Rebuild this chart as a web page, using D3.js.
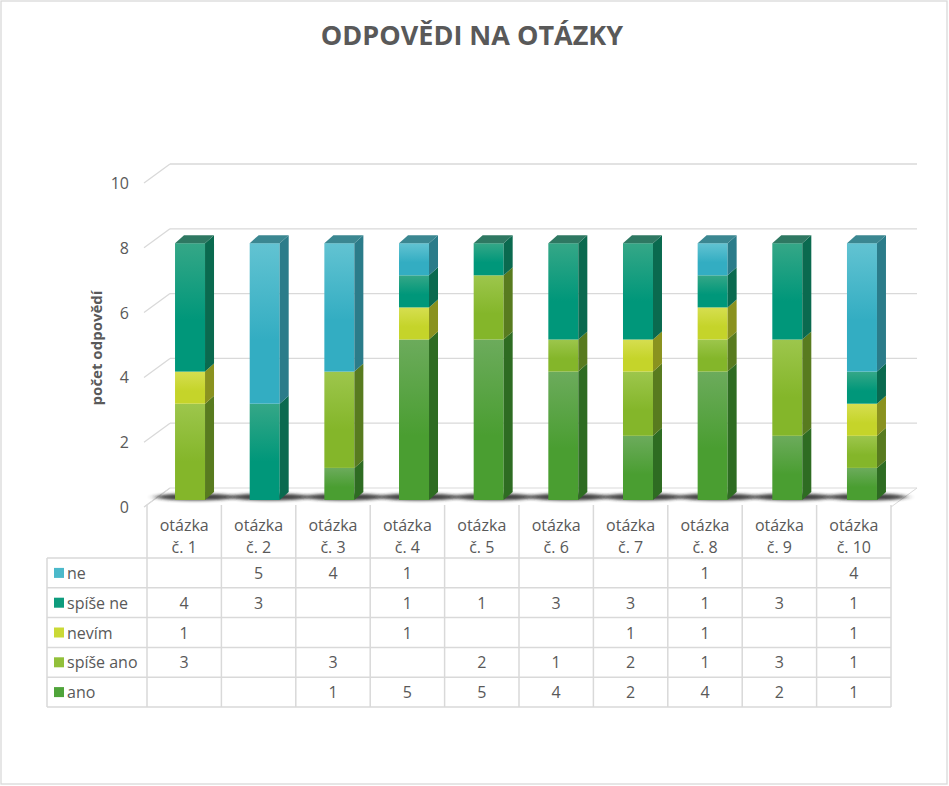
<!DOCTYPE html>
<html>
<head>
<meta charset="utf-8">
<script src="https://cdn.jsdelivr.net/npm/d3@7"></script>
<style>
  body { margin: 0; background: #fff; }
  svg { display: block; font-family: "Open Sans", sans-serif; }
</style>
</head>
<body>
<svg id="chart"></svg>
<script>
// data
const categories = ["otázka č. 1", "otázka č. 2", "otázka č. 3", "otázka č. 4", "otázka č. 5",
  "otázka č. 6", "otázka č. 7", "otázka č. 8", "otázka č. 9", "otázka č. 10"];
const seriesNames = ["ano", "spíše ano", "nevím", "spíše ne", "ne"]; // bottom -> top
const ano      = [null, null, 1, 5, 5, 4, 2, 4, 2, 1];
const spiseAno = [3, null, 3, null, 2, 1, 2, 1, 3, 1];
const nevim    = [1, null, null, 1, null, null, 1, 1, null, 1];
const spiseNe  = [4, 3, null, 1, 1, 3, 3, 1, 3, 1];
const ne       = [null, 5, 4, 1, null, null, null, 1, null, 4];
const yTicks = [0, 2, 4, 6, 8, 10];

const width = 949, height = 786;
const textColor = "#595959";
const gridColor = "#d9d9d9";

const colors = {
  "ne":        { top: "#62c3d2", bottom: "#33adc2", side: "#2b7c8a", cap: "#3b8791", key: "#4bb9ca" },
  "spíše ne":  { top: "#35a787", bottom: "#00977a", side: "#0a6a4f", cap: "#2e7862", key: "#0e9c7d" },
  "nevím":     { top: "#d6de50", bottom: "#c5d42a", side: "#8a921f", cap: "#9aa22a", key: "#cad936" },
  "spíše ano": { top: "#9dc64c", bottom: "#84b62a", side: "#587b1f", cap: "#6b8f2a", key: "#92c03a" },
  "ano":       { top: "#6cab5c", bottom: "#4a9e31", side: "#2e6c22", cap: "#3e7a32", key: "#4fa43a" }
};

const rows = seriesNames.map((name, i) => {
  const vals = [ano, spiseAno, nevim, spiseNe, ne][i];
  return { name, vals };
});

const table = categories.map((c, i) => {
  const o = { cat: c };
  rows.forEach(r => { o[r.name] = r.vals[i] || 0; });
  return o;
});

const stacked = d3.stack().keys(seriesNames)(table);

const svg = d3.select("#chart").attr("width", width).attr("height", height);

svg.append("rect")
  .attr("x", 1).attr("y", 1).attr("width", width - 3).attr("height", height - 3)
  .attr("fill", "#fff").attr("stroke", gridColor).attr("stroke-width", 1.3);

// title
svg.append("text")
  .attr("x", 472).attr("y", 45)
  .attr("text-anchor", "middle")
  .attr("font-size", 27).attr("font-weight", "bold")
  .attr("fill", textColor)
  .text("ODPOVĚDI NA OTÁZKY");

// scales
const colX = d3.scaleBand().domain(categories).range([147, 891]);
const barX = d3.scaleBand().domain(categories).range([152.7, 899.3]);
const yBack = d3.scaleLinear().domain([0, 10]).range([488, 164]);
const yFront = d3.scaleLinear().domain([0, 10]).range([507, 183]);
const yBar = d3.scaleLinear().domain([0, 10]).range([500, 179]);
const barW = 30, dx = 9, dy = -8;
const wallLeft = 170, wallRight = 917, sideLeft = 144;

// gridlines: back wall + side wall
const grid = svg.append("g");
grid.selectAll(".gback")
  .data(yTicks.filter(d => d > 0))
  .enter().append("line")
  .attr("x1", wallLeft).attr("x2", wallRight)
  .attr("y1", d => yBack(d)).attr("y2", d => yBack(d))
  .attr("stroke", gridColor).attr("stroke-width", 1.3);
grid.selectAll(".gside")
  .data(yTicks)
  .enter().append("line")
  .attr("x1", sideLeft).attr("x2", wallLeft)
  .attr("y1", d => yFront(d)).attr("y2", d => yBack(d))
  .attr("stroke", gridColor).attr("stroke-width", 1.3);

// floor
svg.append("path")
  .attr("d", `M${sideLeft},${yFront(0)} L${wallLeft},${yBack(0)} L${wallRight},${yBack(0)} L${colX.range()[1]},${yFront(0)}`)
  .attr("fill", "none").attr("stroke", gridColor).attr("stroke-width", 1);

// y tick labels
svg.selectAll(".ytick")
  .data(yTicks)
  .enter().append("text")
  .attr("x", 129).attr("y", d => yFront(d) + 6)
  .attr("text-anchor", "end")
  .attr("font-size", 16).attr("fill", textColor)
  .text(d => d);

// axis title
svg.append("text")
  .attr("transform", "translate(102,348) rotate(-90)")
  .attr("text-anchor", "middle")
  .attr("font-size", 15).attr("font-weight", "bold")
  .attr("fill", textColor)
  .text("počet odpovědí");

// gradients
const defs = svg.append("defs");
seriesNames.forEach((name, i) => {
  const g = defs.append("linearGradient")
    .attr("id", "grad" + i)
    .attr("x1", "0").attr("y1", "0").attr("x2", "0").attr("y2", "1");
  g.append("stop").attr("offset", "0%").attr("stop-color", colors[name].top);
  g.append("stop").attr("offset", "60%").attr("stop-color", colors[name].bottom);
  g.append("stop").attr("offset", "100%").attr("stop-color", colors[name].bottom);
});
defs.append("filter").attr("id", "blur")
  .attr("x", "-50%").attr("y", "-300%").attr("width", "200%").attr("height", "700%")
  .append("feGaussianBlur").attr("stdDeviation", "4 1.6");

// shadows
svg.selectAll(".shadow")
  .data(categories)
  .enter().append("ellipse")
  .attr("cx", d => barX(d) + barX.bandwidth() / 2 + 5)
  .attr("cy", 497)
  .attr("rx", 40).attr("ry", 3.5)
  .attr("fill", "#222").attr("opacity", 0.85)
  .attr("filter", "url(#blur)");

// bars
const barLeft = cat => barX(cat) + (barX.bandwidth() - barW) / 2;
const layers = svg.selectAll(".layer")
  .data(stacked)
  .enter().append("g")
  .attr("class", "layer");

layers.each(function (layer, li) {
  const g = d3.select(this);
  const segs = layer.filter(d => d[1] > d[0]);
  const name = layer.key;
  g.selectAll(".front")
    .data(segs)
    .enter().append("rect")
    .attr("x", d => barLeft(d.data.cat))
    .attr("y", d => yBar(d[1]))
    .attr("width", barW)
    .attr("height", d => yBar(d[0]) - yBar(d[1]))
    .attr("fill", `url(#grad${li})`);
  g.selectAll(".side")
    .data(segs)
    .enter().append("path")
    .attr("d", d => {
      const x = barLeft(d.data.cat) + barW;
      const y1 = yBar(d[1]), y0 = yBar(d[0]);
      return `M${x},${y1} L${x + dx},${y1 + dy} L${x + dx},${y0 + dy} L${x},${y0} Z`;
    })
    .attr("fill", colors[name].side);
  // cap on topmost segment only
  g.selectAll(".cap")
    .data(segs.filter(d => Math.abs(d[1] - d3.sum(seriesNames, k => d.data[k])) < 1e-9))
    .enter().append("path")
    .attr("d", d => {
      const x = barLeft(d.data.cat), y = yBar(d[1]);
      return `M${x},${y} L${x + dx},${y + dy} L${x + barW + dx},${y + dy} L${x + barW},${y} Z`;
    })
    .attr("fill", colors[name].cap);
});

// data table
const tableLeft = 47, headerTop = 505, headerBottom = 558;
const rowOrder = ["ne", "spíše ne", "nevím", "spíše ano", "ano"];
const rowY = d3.scaleBand().domain(rowOrder).range([headerBottom, 707]);
const tbl = svg.append("g").attr("font-size", 16).attr("fill", textColor);
const lineStyle = sel => sel.attr("stroke", gridColor).attr("stroke-width", 1.5);

// vertical lines of data columns
tbl.selectAll(".vline")
  .data(categories.concat(["end"]))
  .enter().append("line")
  .attr("x1", (d, i) => i < categories.length ? colX(d) : colX.range()[1])
  .attr("x2", (d, i) => i < categories.length ? colX(d) : colX.range()[1])
  .attr("y1", headerTop).attr("y2", rowY.range()[1])
  .call(lineStyle);
tbl.append("line")
  .attr("x1", tableLeft).attr("x2", tableLeft)
  .attr("y1", headerBottom).attr("y2", rowY.range()[1])
  .call(lineStyle);
tbl.selectAll(".hline")
  .data(rowOrder.concat(["end"]))
  .enter().append("line")
  .attr("x1", tableLeft).attr("x2", colX.range()[1])
  .attr("y1", (d, i) => i < rowOrder.length ? rowY(d) : rowY.range()[1])
  .attr("y2", (d, i) => i < rowOrder.length ? rowY(d) : rowY.range()[1])
  .call(lineStyle);

// header labels
const header = tbl.selectAll(".head")
  .data(categories)
  .enter().append("text")
  .attr("text-anchor", "middle")
  .attr("fill", textColor);
header.append("tspan")
  .attr("x", d => colX(d) + colX.bandwidth() / 2).attr("y", 531)
  .text(d => d.split(" ")[0]);
header.append("tspan")
  .attr("x", d => colX(d) + colX.bandwidth() / 2).attr("y", 553)
  .text(d => d.split(" ").slice(1).join(" "));

// legend keys and row names
rowOrder.forEach(name => {
  const y = rowY(name) + rowY.bandwidth() / 2;
  tbl.append("rect")
    .attr("x", 54).attr("y", y - 5).attr("width", 10).attr("height", 10)
    .attr("fill", colors[name].key);
  tbl.append("text")
    .attr("x", 67).attr("y", y + 6)
    .attr("fill", textColor)
    .text(name);
  const vals = rows.find(r => r.name === name).vals;
  tbl.selectAll(null)
    .data(categories.map((c, i) => ({ c, v: vals[i] })).filter(d => d.v != null))
    .enter().append("text")
    .attr("x", d => colX(d.c) + colX.bandwidth() / 2)
    .attr("y", y + 6)
    .attr("text-anchor", "middle")
    .attr("fill", textColor)
    .text(d => d.v);
});
</script>
</body>
</html>
